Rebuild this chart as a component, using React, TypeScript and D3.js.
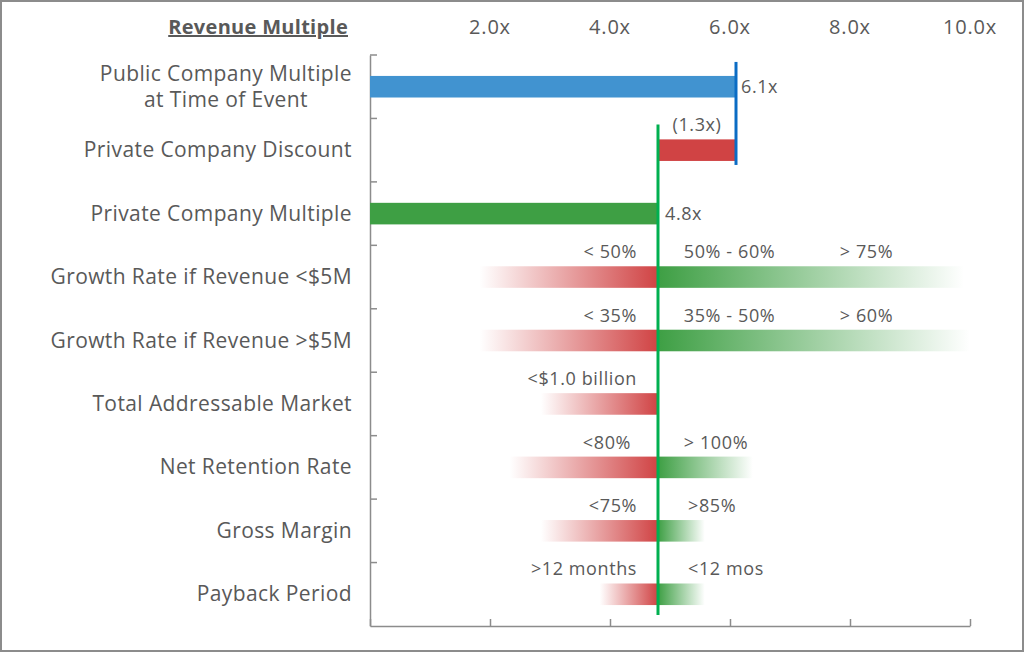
import React from 'react';
import { scaleBand, scaleLinear, select, axisLeft, axisBottom } from 'd3';

// categories (top to bottom)
const categories = [
    'Public Company Multiple|at Time of Event',
    'Private Company Discount ',
    'Private Company Multiple',
    'Growth Rate if Revenue <$5M',
    'Growth Rate if Revenue >$5M',
    'Total Addressable Market',
    'Net Retention Rate',
    'Gross Margin',
    'Payback Period',
];

const tickValues = [0, 2, 4, 6, 8, 10];
const tickLabels = ['', '2.0x', '4.0x', '6.0x', '8.0x', '10.0x'];

// bridge: public multiple, discount, private multiple
const publicMultiple = 6.1;
const discount = 1.3;
const privateMultiple = 4.8;

// gradient rows: red start (fades out leftwards) / green end (fades out rightwards)
const factorRows = [3, 4, 5, 6, 7, 8];
const redStart = [1.83, 1.83, 2.85, 2.33, 2.85, 3.83];
const greenEnd = [9.9, 10.0, null, 6.38, 5.58, 5.58];

// labels above the factor bars: [text, value at anchor, anchor]
const factorLabels: [string, number, string][][] = [
    [['< 50%', 4.45, 'end'], ['50% - 60%', 5.23, 'start'], ['> 75%', 7.83, 'start']],
    [['< 35%', 4.45, 'end'], ['35% - 50%', 5.23, 'start'], ['> 60%', 7.83, 'start']],
    [['<$1.0 billion', 4.45, 'end']],
    [['<80%', 4.35, 'end'], ['> 100%', 5.23, 'start']],
    [['<75%', 4.45, 'end'], ['>85%', 5.3, 'start']],
    [['>12 months', 4.45, 'end'], ['<12 mos', 5.3, 'start']],
];

const dimensions = {
    width: 1024,
    height: 652,
    marginLeft: 370,
    marginTop: 55,
    chartWidth: 600,
    chartHeight: 571,
};

const textColor = '#595959';
const font = '"Open Sans", "Noto Sans", sans-serif';

const App: React.FC = () => {
    const ref = React.useRef<SVGSVGElement>(null);

    React.useEffect(() => {
        const svg = select(ref.current);
        svg.selectAll('*').remove();

        const x = scaleLinear().domain([0, 10]).range([0, dimensions.chartWidth]);
        const y = scaleBand<number>()
            .domain(categories.map((_, i) => i))
            .range([0, dimensions.chartHeight])
            .paddingInner(0.66)
            .paddingOuter(0.33);
        const step = y.step();

        const defs = svg.append('defs');
        const red = defs.append('linearGradient').attr('id', 'redFade').attr('x1', '0%').attr('x2', '100%');
        red.append('stop').attr('offset', '0%').attr('stop-color', '#d04344').attr('stop-opacity', 0);
        red.append('stop').attr('offset', '100%').attr('stop-color', '#d04344').attr('stop-opacity', 1);
        const green = defs.append('linearGradient').attr('id', 'greenFade').attr('x1', '0%').attr('x2', '100%');
        green.append('stop').attr('offset', '0%').attr('stop-color', '#3e9f44').attr('stop-opacity', 1);
        green.append('stop').attr('offset', '100%').attr('stop-color', '#3e9f44').attr('stop-opacity', 0);

        // frame
        svg.append('rect')
            .attr('x', 1).attr('y', 1)
            .attr('width', dimensions.width - 2).attr('height', dimensions.height - 2)
            .attr('fill', '#fff').attr('stroke', '#8c8c8c').attr('stroke-width', 2);

        const g = svg.append('g')
            .attr('transform', `translate(${dimensions.marginLeft}, ${dimensions.marginTop})`);

        // axes
        const yAxis = axisLeft(y).tickSizeInner(-7).tickSizeOuter(0).tickFormat(() => '')
            .tickValues(categories.map((_, i) => i));
        const yAxisGroup = g.append('g').call(yAxis);
        yAxisGroup.selectAll('.tick').attr('transform', (d: number) => `translate(0, ${y(d)! - y.paddingOuter() * step})`);
        yAxisGroup.selectAll('line, path').attr('stroke', '#8c8c8c').attr('stroke-width', 1.5);

        const xAxis = axisBottom(x).tickValues(tickValues).tickSizeInner(-7).tickSizeOuter(0).tickFormat(() => '');
        const xAxisGroup = g.append('g')
            .attr('transform', `translate(0, ${dimensions.chartHeight})`)
            .call(xAxis);
        xAxisGroup.selectAll('line, path').attr('stroke', '#8c8c8c').attr('stroke-width', 1.5);

        // top tick labels
        g.selectAll('.toplabel')
            .data(tickValues)
            .join('text')
            .attr('x', d => x(d))
            .attr('y', -21)
            .attr('text-anchor', 'middle')
            .attr('font-size', 20)
            .attr('letter-spacing', 0.8)
            .attr('fill', textColor)
            .attr('font-family', font)
            .text((_, i) => tickLabels[i]);

        svg.append('text')
            .attr('x', 348).attr('y', 34)
            .attr('text-anchor', 'end')
            .attr('font-size', 20).attr('font-weight', 'bold')
            .attr('letter-spacing', 0.3)
            .attr('text-decoration', 'underline')
            .attr('fill', textColor).attr('font-family', font)
            .text('Revenue Multiple');

        // category labels (multi-line labels are centred on their first line)
        const cat = g.selectAll('.cat')
            .data(categories)
            .join('text')
            .attr('text-anchor', 'end')
            .attr('font-size', 21)
            .attr('letter-spacing', 0.4)
            .attr('fill', textColor)
            .attr('font-family', font);
        cat.each(function (d, i) {
            const lines = d.split('|');
            const cy = y(i)! + y.bandwidth() / 2;
            const el = select(this);
            el.selectAll('tspan')
                .data(lines)
                .join('tspan')
                .attr('x', -18)
                .attr('y', (_, j) => cy + 7 + (j - (lines.length - 1) / 2) * 26)
                .text(l => l);
            if (lines.length > 1) {
                const first = el.select<SVGTSpanElement>('tspan').node()!;
                const centre = -18 - first.getComputedTextLength() / 2;
                el.attr('text-anchor', 'middle').selectAll('tspan').attr('x', centre);
            }
        });

        const bh = y.bandwidth();

        // bridge bars
        g.append('rect')
            .attr('x', x(0)).attr('y', y(0)!)
            .attr('width', x(publicMultiple) - x(0)).attr('height', bh)
            .attr('fill', '#4193d0');
        g.append('rect')
            .attr('x', x(publicMultiple - discount)).attr('y', y(1)!)
            .attr('width', x(publicMultiple) - x(publicMultiple - discount)).attr('height', bh)
            .attr('fill', '#d04344');
        g.append('rect')
            .attr('x', x(0)).attr('y', y(2)!)
            .attr('width', x(privateMultiple) - x(0)).attr('height', bh)
            .attr('fill', '#3e9f44');

        // factor gradient bars
        factorRows.forEach((row, i) => {
            g.append('rect')
                .attr('x', x(redStart[i])).attr('y', y(row)!)
                .attr('width', x(privateMultiple) - x(redStart[i])).attr('height', bh)
                .attr('fill', 'url(#redFade)');
            const ge = greenEnd[i];
            if (ge !== null) {
                g.append('rect')
                    .attr('x', x(privateMultiple)).attr('y', y(row)!)
                    .attr('width', x(ge) - x(privateMultiple)).attr('height', bh)
                    .attr('fill', 'url(#greenFade)');
            }
            factorLabels[i].forEach(([t, v, anchor]) => {
                g.append('text')
                    .attr('x', x(v)).attr('y', y(row)! - 8)
                    .attr('text-anchor', anchor)
                    .attr('font-size', 18)
                    .attr('letter-spacing', 0.6)
                    .attr('fill', textColor)
                    .attr('font-family', font)
                    .text(t);
            });
        });

        // reference lines
        g.append('line')
            .attr('x1', x(publicMultiple)).attr('x2', x(publicMultiple))
            .attr('y1', y(0)! - 14).attr('y2', y(1)! + bh + 4)
            .attr('stroke', '#0b6cc4').attr('stroke-width', 3);
        g.append('line')
            .attr('x1', x(privateMultiple)).attr('x2', x(privateMultiple))
            .attr('y1', y(1)! - 15).attr('y2', y(8)! + bh + 10)
            .attr('stroke', '#00b050').attr('stroke-width', 3);

        // value labels
        const valueText = (tx: number, ty: number, t: string, anchor = 'start') =>
            g.append('text')
                .attr('x', tx).attr('y', ty)
                .attr('text-anchor', anchor)
                .attr('font-size', 18)
                .attr('letter-spacing', 0.6)
                .attr('fill', textColor)
                .attr('font-family', font)
                .text(t);
        valueText(x(publicMultiple) + 5, y(0)! + bh / 2 + 6, `${publicMultiple.toFixed(1)}x`);
        valueText(x(publicMultiple - discount / 2), y(1)! - 8, `(${discount.toFixed(1)}x)`, 'middle');
        valueText(x(privateMultiple) + 7, y(2)! + bh / 2 + 6, `${privateMultiple.toFixed(1)}x`);
    }, []);

    return (
        <svg
            ref={ref}
            width={dimensions.width}
            height={dimensions.height}
            style={{ position: 'absolute', left: 0, top: 0 }}
        />
    );
};

export default App;
